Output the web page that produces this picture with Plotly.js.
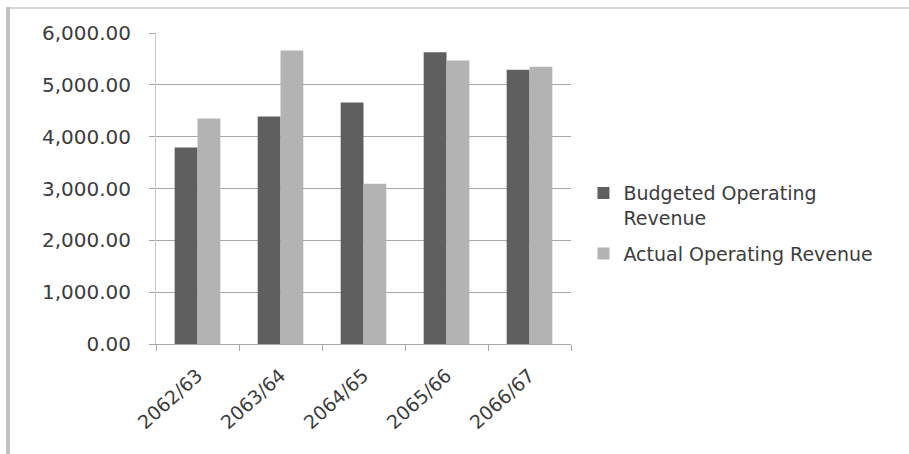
<!DOCTYPE html>
<html>
<head>
<meta charset="utf-8">
<script src="https://cdn.plot.ly/plotly-3.0.1.min.js"></script>
<style>
  html, body { margin: 0; padding: 0; background: #ffffff; }
  #wrap { position: relative; width: 909px; height: 454px; }
  #chart { width: 909px; height: 454px; }
  /* frame: light rule along the top, heavier rule down the left */
  #frame-top { position: absolute; left: 6px; top: 7px; width: 903px; height: 2px; background: #d6d6d6; pointer-events: none; }
  #frame-left { position: absolute; left: 6px; top: 7px; width: 4px; height: 447px; background: #c2c2c2; pointer-events: none; }
</style>
</head>
<body>
<div id="wrap">
  <div id="chart"></div>
  <div id="frame-top"></div>
  <div id="frame-left"></div>
</div>
<script>
// Fiscal years (Nepali calendar)
const years = ["2062/63", "2063/64", "2064/65", "2065/66", "2066/67"];
// Operating revenue per year
const budgetedRevenue = [3790, 4390, 4660, 5630, 5290];
const actualRevenue = [4350, 5660, 3090, 5470, 5350];
const seriesNames = ["Budgeted Operating<br>Revenue", "Actual Operating Revenue"];

const FONT = "DejaVu Sans, Verdana, sans-serif";
const TEXT = "#3c3c3c";
const GRID = "#a8a8a8";

const traces = [
  {
    type: "bar",
    name: seriesNames[0],
    legendgroup: "budgeted",
    x: years,
    y: budgetedRevenue,
    marker: { color: "#5f5f5f", line: { width: 0 } },
    hoverinfo: "x+y"
  },
  {
    type: "bar",
    name: seriesNames[1],
    legendgroup: "actual",
    x: years,
    y: actualRevenue,
    marker: { color: "#b3b3b3", line: { width: 0 } },
    hoverinfo: "x+y"
  }
];

const layout = {
  width: 909,
  height: 454,
  margin: { l: 156, r: 338, t: 33, b: 110, pad: 0 },
  paper_bgcolor: "#ffffff",
  plot_bgcolor: "#ffffff",
  barmode: "group",
  bargap: 0.45,
  bargroupgap: 0,
  font: { family: FONT, color: TEXT, size: 18 },
  xaxis: {
    type: "category",
    showline: true,
    linecolor: GRID,
    linewidth: 1,
    ticks: "outside",
    tickson: "boundaries",
    ticklen: 6,
    tickcolor: GRID,
    tickangle: -42,
    ticklabelstandoff: 12,
    tickfont: { family: FONT, size: 19, color: TEXT },
    showgrid: false,
    zeroline: false
  },
  yaxis: {
    range: [0, 6000],
    dtick: 1000,
    tick0: 0,
    tickformat: ",.2f",
    showline: true,
    linecolor: "#c8c8c8",
    linewidth: 1,
    ticks: "outside",
    ticklen: 6,
    tickcolor: GRID,
    ticklabelstandoff: 14,
    gridcolor: GRID,
    gridwidth: 1,
    zeroline: false,
    tickfont: { family: FONT, size: 20, color: TEXT }
  },
  showlegend: true,
  legend: {
    x: 1.03,
    xanchor: "left",
    y: 0.387,
    yanchor: "middle",
    valign: "top",
    bgcolor: "rgba(0,0,0,0)",
    borderwidth: 0,
    traceorder: "grouped",
    tracegroupgap: 8,
    itemwidth: 30,
    font: { family: FONT, size: 19, color: TEXT }
  }
};

Plotly.newPlot("chart", traces, layout, { displayModeBar: false, staticPlot: true });
</script>
</body>
</html>
